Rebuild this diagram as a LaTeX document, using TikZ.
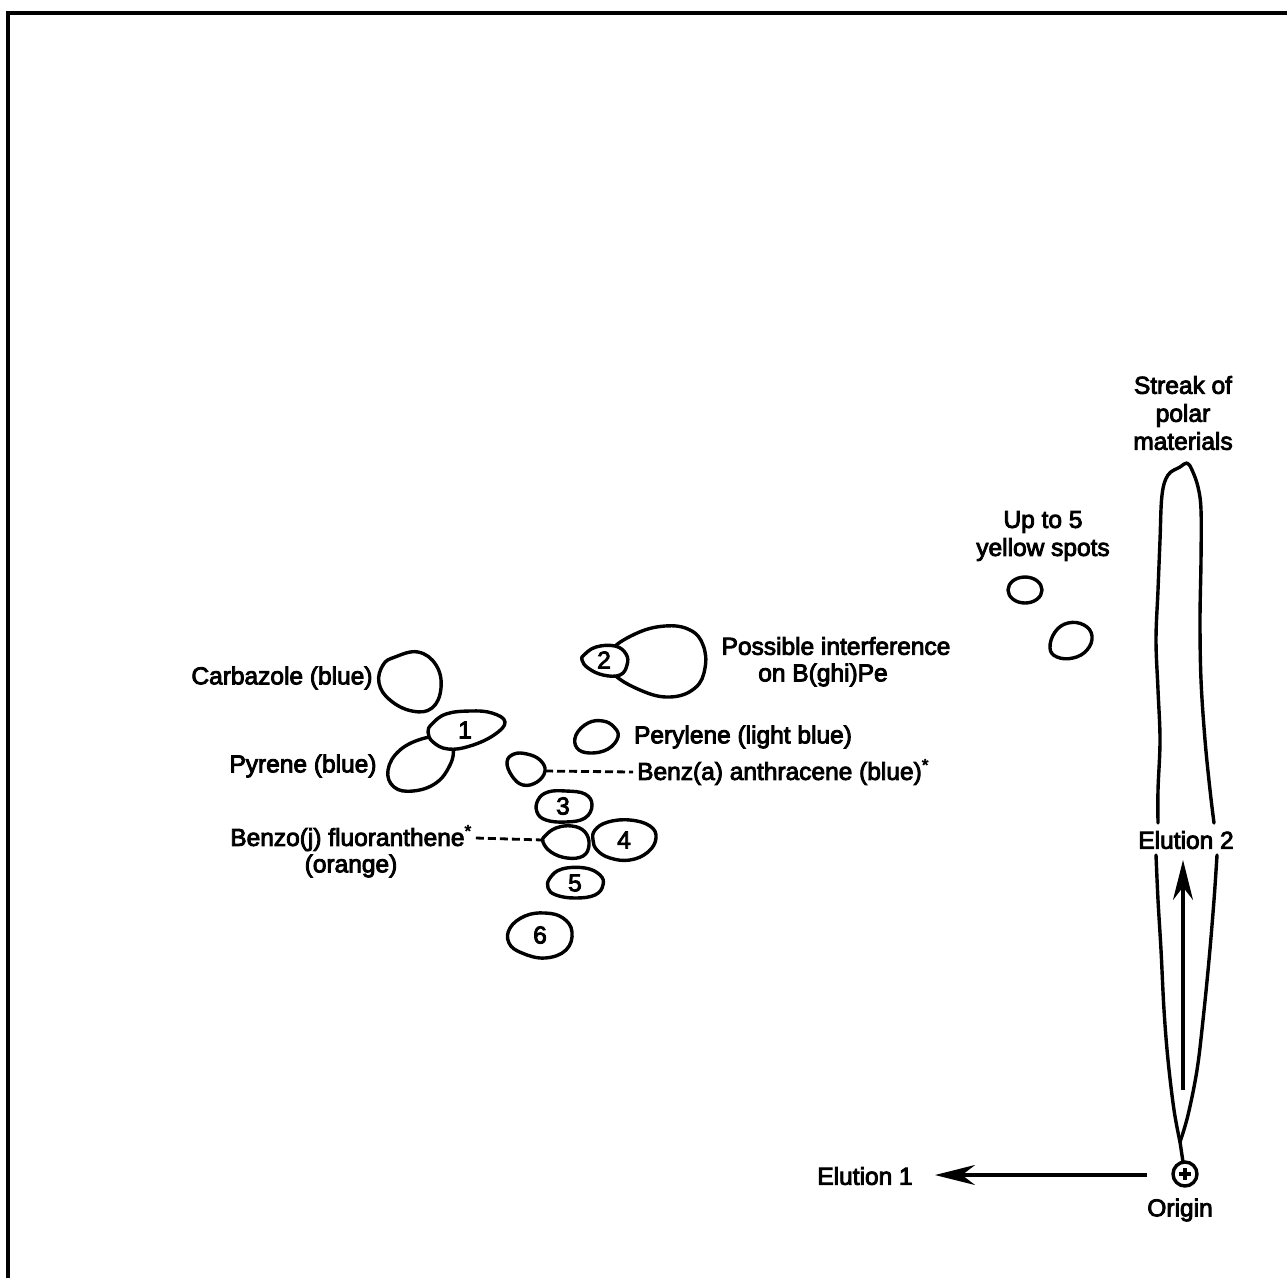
\documentclass[tikz,border=0pt]{standalone}
\usepackage{fontspec}
\setmainfont{Liberation Sans}[BoldFont={Liberation Sans},BoldFeatures={FakeBold=3.5}]
\usetikzlibrary{arrows.meta}
\begin{document}
\begin{tikzpicture}[x=1pt,y=-1pt,
  blob/.style={draw=black,line width=3.4pt,fill=white,line join=round},
  outline/.style={draw=black,line width=3.4pt,line cap=round,line join=round},
  lbl/.style={font=\fontsize{24.5}{28}\selectfont\bfseries,inner sep=0pt,text=black},
  num/.style={font=\fontsize{24.5}{28}\selectfont\bfseries,inner sep=0pt},
  dashline/.style={draw=black,line width=2.8pt,dash pattern=on 8pt off 4pt},
  arr/.style={draw=black,line width=3.2pt,-{Stealth[length=40pt,width=20pt,inset=13pt]}}]
\useasboundingbox (0,0) rectangle (1287,1278);
% frame
\draw[line width=4.5pt] (8,1278) -- (8,13) -- (1287,13);

% carbazole
\path[blob] plot[smooth cycle,tension=0.7] coordinates {(395,657) (418,652) (436,665) (441,688) (432,708) (412,711) (390,700) (379,683) (383,665)};
% pyrene (behind blob 1)
\path[blob] plot[smooth cycle,tension=0.7] coordinates {(425,738) (400,750) (388,770) (394,787) (413,791) (436,783) (450,765) (453,748) (445,738)};
% blob 1
\path[blob] plot[smooth cycle,tension=0.7] coordinates {(432,724) (446,714) (470,711) (492,713) (505,722) (494,735) (470,746) (448,749) (433,742) (428,732)};
\node[num] (n1) at (465,730) {1};
% blob 2 big
\path[blob] plot[smooth cycle,tension=0.7] coordinates {(610,652) (635,634) (665,626) (690,630) (703,645) (705,668) (695,688) (670,697) (640,690) (612,672)};
% blob 2 small
\path[blob] plot[smooth cycle,tension=0.7] coordinates {(584,655) (596,647) (615,646) (626,654) (627,665) (620,675) (603,675) (588,668) (582,660)};
\node[num] (n2) at (604,660) {2};
% perylene
\path[blob] plot[smooth cycle,tension=0.7] coordinates {(576,735) (588,723) (603,721) (614,727) (618,737) (608,749) (590,753) (577,748)};
% benz(a)anthracene
\path[blob] plot[smooth cycle,tension=0.7] coordinates {(507,762) (514,754) (527,754) (540,760) (545,771) (537,782) (523,785) (512,776)};
\coordinate (benzaR) at (545,771);
% blob 3
\path[blob] plot[smooth cycle,tension=0.7] coordinates {(538,800) (548,792) (566,791) (585,794) (592,805) (585,818) (566,822) (546,820) (537,812)};
\node[num] (n3) at (563,806) {3};
% benzo(j)fluoranthene
\path[blob] plot[smooth cycle,tension=0.7] coordinates {(545,836) (556,828) (572,826) (585,832) (589,845) (583,856) (567,858) (551,852) (543,842)};
\coordinate (benzojL) at (543,840);
% blob 4
\path[blob] plot[smooth cycle,tension=0.7] coordinates {(595,830) (608,822) (630,820) (650,826) (656,838) (648,852) (630,860) (610,858) (597,850) (593,840)};
\node[num] (n4) at (624,840) {4};
% blob 5
\path[blob] plot[smooth cycle,tension=0.7] coordinates {(550,878) (562,869) (585,868) (600,875) (603,885) (595,895) (575,898) (556,895) (548,888)};
\node[num] (n5) at (575,883) {5};
% blob 6
\path[blob] plot[smooth cycle,tension=0.7] coordinates {(510,928) (525,916) (545,913) (563,918) (572,932) (566,950) (545,958) (522,953) (509,943)};
\node[num] (n6) at (540,935) {6};
% yellow spots
\path[blob] (1025,590) ellipse [x radius=17, y radius=13];
\path[blob] plot[smooth cycle,tension=0.7] coordinates {(1050,648) (1055,632) (1068,623) (1084,625) (1092,636) (1087,650) (1073,658) (1057,657)};

% streak of polar materials
\draw[outline] plot[smooth,tension=0.6] coordinates {(1158,823) (1158,790) (1160,740) (1158,690) (1156,640) (1158,590) (1160,540) (1162,495) (1168,475) (1180,467) (1187,463) (1192,470) (1198,487) (1201,510) (1201,560) (1200,620) (1201,680) (1205,740) (1210,790) (1214,823)};
\draw[outline] plot[smooth,tension=0.6] coordinates {(1156,855) (1158,900) (1161,950) (1164,1010) (1168,1060) (1174,1110) (1180,1142)};
\draw[outline] plot[smooth,tension=0.6] coordinates {(1217,855) (1214,900) (1209,960) (1203,1020) (1197,1070) (1188,1115) (1180,1142)};
\coordinate (stemtop) at (1180,1142);
% origin
\coordinate (org) at (1185,1174);
\draw[outline] (stemtop) -- (1183,1162);
\draw[outline] (org) circle [radius=12];
\draw[line width=3.2pt] (1179,1174) -- (1191,1174) (1185,1168) -- (1185,1180);

% labels
\node[lbl,align=center] (streak) at (1183,413) {Streak of\\polar\\materials};
\node[lbl,align=center] (yellow) at (1043,536) {Up to 5\\yellow spots};
\node[lbl] (poss1) at (836,646) {Possible interference};
\node[lbl] (poss2) at (823,675) {on B(ghi)Pe};
\node[lbl] (carb) at (282,678) {Carbazole (blue)};
\node[lbl] (pyr) at (303,766) {Pyrene (blue)};
\node[lbl] (pery) at (743,737) {Perylene (light blue)};
\node[lbl,anchor=west] (benza) at (637,772) {Benz(a) anthracene (blue)\textsuperscript{*}};
\node[lbl] (benzoj) at (351,838) {Benzo(j) fluoranthene\textsuperscript{*}};
\node[lbl] (orange) at (351,866) {(orange)};
\node[lbl] (el2) at (1186,840) {Elution 2};
\node[lbl] (el1) at (865,1176) {Elution 1};
\node[lbl] (origin) at (1180,1210) {Origin};

% dashed leaders
\draw[dashline] (benzaR) -- ([xshift=-4pt]benza.west);
\draw[dashline] ([xshift=4pt]benzoj.east) -- (benzojL);

% elution arrows
\coordinate (a2s) at (1183,1090);
\coordinate (a2e) at (1183,860);
\draw[arr] (a2s) -- (a2e);
\coordinate (a1s) at (1147,1175);
\coordinate (a1e) at (935,1175);
\draw[arr] (a1s) -- (a1e);
\end{tikzpicture}
\end{document}
